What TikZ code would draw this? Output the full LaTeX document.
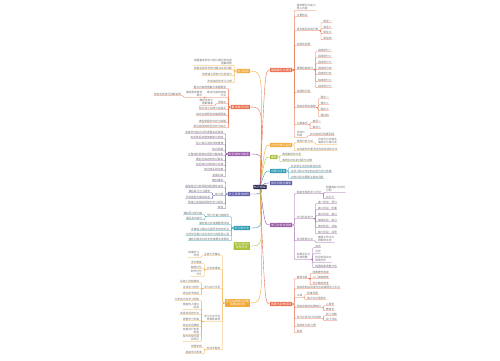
\documentclass[tikz,border=0pt]{standalone}
\usepackage{fontspec}
\usetikzlibrary{backgrounds}
\newfontfamily\cjk{Noto Sans CJK SC}
\definecolor{cRed}{HTML}{E9704F}
\definecolor{cOrg}{HTML}{F2A93B}
\definecolor{cGrn}{HTML}{A8C23A}
\definecolor{cTeal}{HTML}{2B9AB3}
\definecolor{cInd}{HTML}{5E5EAA}
\definecolor{cPur}{HTML}{9B5AA8}
\definecolor{navy}{HTML}{1F1F4F}
\tikzstyle{topic}=[text=white, font=\fontsize{2.9}{3.5}\selectfont\cjk, inner sep=0.8pt, rounded corners=0.4pt, align=center]
\tikzstyle{leaf}=[text=black!55, font=\fontsize{2.7}{3.4}\selectfont\cjk, inner sep=0.3pt, anchor=west, align=left]
\tikzstyle{leafL}=[leaf, anchor=east, align=right]
\tikzset{ln/.style={draw=#1, line width=0.3pt, rounded corners=0.8pt}}
% one link: from a point to a child, then along the child's underline
\newcommand\linkR[3]{\draw[#1] (#2) -- ++(2,0) |- (#3.south west) -- (#3.south east);}
\newcommand\linkL[3]{\draw[#1] (#2) -- ++(-2,0) |- (#3.south east) -- (#3.south west);}
% a row of children: parent, anchor, link style, list name/y/text
\newcommand\kidsR[4]{\foreach \i/\y/\txt in {#4}{%
  \node[leaf, xshift=4pt] (#1\i) at (#1.east |- 0,\y) {\txt};
  \linkR{#3}{#1.#2}{#1\i}}}
\newcommand\kidsL[4]{\foreach \i/\y/\txt in {#4}{%
  \node[leafL, xshift=-4pt] (#1\i) at (#1.west |- 0,\y) {\txt};
  \linkL{#3}{#1.#2}{#1\i}}}

\begin{document}
\begin{tikzpicture}[x=1pt,y=-1pt]
\useasboundingbox (0,0) rectangle (500,360);
\begin{scope}[on background layer]
  \fill[white] (0,0) rectangle (500,360);
\end{scope}

\node[topic, fill=navy] (ctr) at (260,187) {知识框架};

% right side
\node[topic, fill=cRed, anchor=west] (r1) at (270,70) {基础概念与原理};
\node[topic, fill=cOrg, anchor=west] (r2) at (270,145) {方法与技巧运用};
\node[topic, fill=cGrn, anchor=west] (r3) at (270,157) {案例};
\node[topic, fill=cTeal, anchor=west] (r4) at (270,171) {实践与应用};
\node[topic, fill=cInd, anchor=west] (r5) at (270,183) {常见问题与解答};
\node[topic, fill=cPur, anchor=west] (r6) at (270,225) {学习计划与安排};
\node[topic, fill=cRed, anchor=west] (r7) at (270,304) {拓展与延伸阅读};

\kidsR{r1}{east}{ln=cRed}{a/7/{基本概念与定义\\核心内容}, b/15/主要特点, c/29/常见类型及其分类, d/44/适用的范围, e/68/重要组成部分, f/91/发展的历程, g/106/相关的理论基础, h/123/注意事项, i/134/{总结与\\归纳}}
\kidsR{r1c}{south east}{ln=cRed}{1/21/类型一, 2/27/类型二, 3/32/类型三, 4/38/类型四}
\kidsR{r1e}{south east}{ln=cRed}{1/50/组成部分一, 2/56/组成部分二, 3/62/组成部分三, 4/68/组成部分四, 5/73/组成部分五, 6/80/组成部分六, 7/86/组成部分七}
\kidsR{r1g}{south east}{ln=cRed}{1/97/理论一, 2/103/理论二, 3/109/理论三, 4/115/理论四}
\kidsR{r1h}{south east}{ln=cRed}{1/121/事项一, 2/127/事项二}
\kidsR{r1i}{south east}{ln=cRed}{1/134/对内容进行简要回顾}

\kidsR{r2}{east}{ln=cOrg}{a/141/常用分析方法, b/149/实际操作中要灵活选择合适的方法}
\kidsR{r2a}{south east}{ln=cOrg}{1/141/{比较法与归纳法\\演绎法与类比法}}
\kidsR{r3}{east}{ln=cGrn}{a/154/典型案例的分析, b/160/案例中存在的问题与对策}
\kidsR{r4}{east}{ln=cTeal}{a/166/在日常生活中的具体应用, b/171/在学习和工作中的应用方式与效果, c/177/应用过程中需要注意的问题}

\kidsR{r6}{east}{ln=cPur}{a/192/制定合理的学习计划, b/217/学习阶段划分, c/239/时间管理方法, d/256/{效果评估与\\反馈调整}}
\kidsR{r6a}{south east}{ln=cPur}{1/189/{明确目标与时间\\分配}, 2/197/执行力}
\kidsR{r6b}{south east}{ln=cPur}{1/202/第一阶段：预习, 2/208/第二阶段：听课, 3/214/第三阶段：复习, 4/220/第四阶段：练习, 5/226/第五阶段：总结, 6/232/第六阶段：反思}
\kidsR{r6c}{south east}{ln=cPur}{1/239/{番茄工作法与\\四象限法则}}
\kidsR{r6d}{south east}{ln=cPur}{1/246/自评, 2/252/互评, 3/259/{阶段性测试与\\成绩分析}, 4/266/根据结果调整计划}

\kidsR{r7}{east}{ln=cRed}{a/277/推荐书目, b/287/相关的网站资源与在线课程学习平台, c/296/工具, d/306/相关领域的拓展知识, e/317/学习交流与讨论社群, f/325/持续学习的习惯, g/331/其他}
\kidsR{r7a}{south east}{ln=cRed}{1/272/经典著作选读, 2/277/入门读物推荐, 3/283/专业教材参考}
\kidsR{r7c}{south east}{ln=cRed}{1/293/思维导图, 2/298/笔记与记录软件}
\kidsR{r7d}{south east}{ln=cRed}{1/304/心理学, 2/309/教育学}
\kidsR{r7e}{south east}{ln=cRed}{1/314/线上社群, 2/319/线下活动}

% left side
\node[topic, fill=cOrg, anchor=east] (l1) at (250,71) {学习目标};
\node[topic, fill=cRed, anchor=east] (l2) at (250,107) {重点难点分析};
\node[topic, fill=cPur, anchor=east] (l3) at (250,154) {知识结构与体系};
\node[topic, fill=cInd, anchor=east] (l4) at (250,194) {学习资源与材料};
\node[topic, fill=cTeal, anchor=east] (l5) at (250,228) {学习的方法};
\node[topic, fill=cGrn, anchor=east] (l6) at (250,246) {学习评价与\\考核方式};
\node[topic, fill=cOrg, anchor=east] (l7) at (250,303) {学习中的常见问题\\及解决办法};

\kidsL{l1}{west}{ln=cOrg}{a/62/{掌握基本知识与核心概念的内涵\\理解原理}, b/68/能够运用所学知识解决实际问题, c/74/培养独立思考与分析能力, d/81/形成良好的学习习惯}
\kidsL{l2}{west}{ln=cRed}{a/87/重点内容的理解与掌握要求, b/94/{难点内容的突破\\方法}, c/102/易错点, d/108/知识点之间的内在联系, e/114/综合运用题型的解题思路, f/121/典型例题的分析与讲解, g/126/常见错误的原因分析与纠正}
\kidsL{l2b}{south west}{ln=cRed}{1/94/{借助图表直观\\展示}}
\kidsL{l2b1}{south west}{ln=cRed}{1/94/结合实例进行讲解说明}
\kidsL{l2c}{south west}{ln=cRed}{1/102/{概念混淆与\\理解偏差}}
\kidsL{l3}{west}{ln=cPur}{a/132/各章节内容之间的逻辑关系梳理, b/137/知识体系的整体框架与构成, c/143/核心知识点的归纳整理, d/149/知识网络, e/154/从整体到局部的层层分解结构, f/159/横向与纵向的知识联系, g/164/前后知识的衔接与过渡, h/169/知识体系的完善, i/175/查漏补缺}
\kidsL{l4}{west}{ln=cInd}{a/180/教材课本, b/186/课堂笔记与老师提供的课件资料, c/194/练习题, d/202/网络上的相关视频与学习资料, e/207/其他}
\kidsL{l4c}{south west}{ln=cInd}{1/191/课后练习与习题册, 2/197/历年真题与模拟试卷}
\kidsL{l5}{west}{ln=cTeal}{a/215/预习与复习相结合, b/223/做好笔记并定期整理归纳, c/229/多做练习题以巩固所学的知识点, d/234/与同学互相讨论交流学习的经验心得, e/239/遇到问题及时向老师请教寻求帮助}
\kidsL{l5a}{south west}{ln=cTeal}{1/213/课前预习新内容, 2/218/课后及时复习}
\kidsL{l7}{west}{ln=cOrg}{a/254/注意力不集中, b/268/记忆效果差, c/287/学习动力不足, d/318/{学习方法不当\\导致效率低}, e/348/时间不够用}
\kidsL{l7a}{south west}{ln=cOrg}{1/254/{改善学习\\环境}}
\kidsL{l7b}{south west}{ln=cOrg}{1/262/多次重复, 2/267/联想记忆, 3/273/{制作记忆\\卡片}}
\kidsL{l7c}{south west}{ln=cOrg}{1/281/设定小目标激励, 2/287/寻找学习伙伴, 3/293/适当给予奖励}
\kidsL{l7d}{south west}{ln=cOrg}{1/299/分析自己的学习风格, 2/306/{借鉴他人成功\\经验}, 3/313/选择合适的方法, 4/319/调整学习节奏, 5/325/保证充足睡眠, 6/331/{定期进行自我\\检查}, 7/338/{及时发现问题\\并改正}}
\kidsL{l7e}{south west}{ln=cOrg}{1/346/合理安排, 2/352/提高学习效率}

% main branches from the centre
\begin{scope}[on background layer, line width=0.6pt]
\foreach \b/\c/\y in {r1/cRed/70, r2/cOrg/145, r3/cGrn/157, r4/cTeal/171, r5/cInd/183, r6/cPur/225, r7/cRed/304}
  \draw[\c] (ctr.center) .. controls (265,\y) .. (\b.west);
\foreach \b/\c/\y in {l1/cOrg/71, l2/cRed/107, l3/cPur/154, l4/cInd/194, l5/cTeal/228, l6/cGrn/246, l7/cOrg/303}
  \draw[\c] (ctr.center) .. controls (263,\y) .. (\b.east);
\end{scope}
\end{tikzpicture}
\end{document}
